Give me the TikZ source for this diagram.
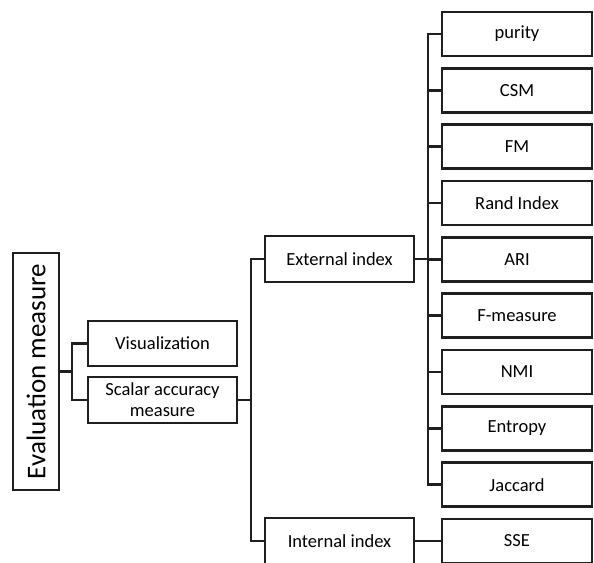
\documentclass[tikz,border=0pt]{standalone}
\usepackage{fontspec}
\setmainfont{Carlito}
\begin{document}
\begin{tikzpicture}[x=1pt,y=-1pt,
  box/.style={draw=black!88, line width=2.6pt, fill=white, inner sep=0pt, align=center, font=\fontsize{18.5}{20}\selectfont},
  rbox/.style={box, minimum width=150pt, minimum height=44pt},
  mbox/.style={box, minimum width=149pt, minimum height=46pt},
  conn/.style={draw=black!88, line width=2.6pt}]
\useasboundingbox (0,0) rectangle (594,562);
\clip (0,0) rectangle (594,562);
\node[box, rotate=90, minimum width=237pt, minimum height=46pt, font=\fontsize{27}{29}\selectfont] (eval) at (36,371.5) {Evaluation measure};
\node[mbox, minimum height=45pt] (vis) at (162.5,343.5) {Visualization};
\node[mbox, font=\fontsize{18.5}{21}\selectfont] (scalar) at (162.5,400) {Scalar accuracy\\measure};
\node[mbox] (ext) at (339.5,259) {External index};
\node[mbox] (int) at (339.5,541) {Internal index};
\node[rbox] (purity) at (517,34) {purity};
\node[rbox] (csm) at (517,90.3) {CSM};
\node[rbox] (fm) at (517,146.7) {FM};
\node[rbox] (rand) at (517,203) {Rand Index};
\node[rbox] (ari) at (517,259.3) {ARI};
\node[rbox] (fmeas) at (517,315.7) {F-measure};
\node[rbox] (nmi) at (517,372) {NMI};
\node[rbox] (entropy) at (517,428.3) {Entropy};
\node[rbox] (jaccard) at (517,484.7) {Jaccard};
\node[rbox] (sse) at (517,541) {SSE};
\coordinate (j1) at (72,371.5);
\coordinate (j2) at (251,400);
\coordinate (j3) at (428,259);
\draw[conn] (eval.south) -- (j1);
\draw[conn] (vis.west) -| (j1);
\draw[conn] (scalar.west) -| (j1);
\draw[conn] (scalar.east) -- (j2);
\draw[conn] (ext.west) -| (j2);
\draw[conn] (int.west) -| (j2);
\draw[conn] (ext.east) -- (j3);
\foreach \n in {purity,csm,fm,rand,ari,fmeas,nmi,entropy,jaccard}
  \draw[conn] (\n.west) -| (j3);
\draw[conn] (int.east) -- (sse.west);
\end{tikzpicture}
\end{document}
